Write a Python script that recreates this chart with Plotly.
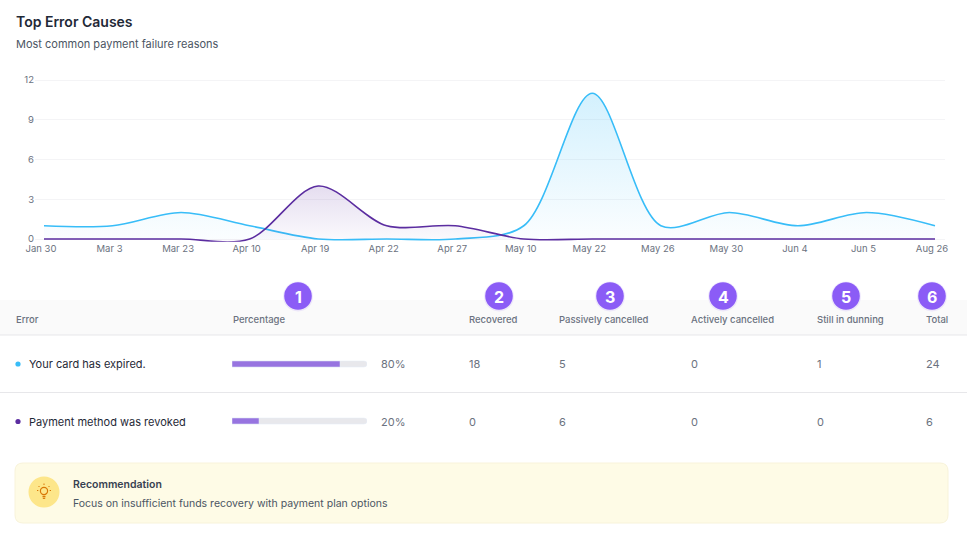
import plotly.graph_objects as go

# Tamaño de la página
W, H = 967, 543

# Datos del gráfico (conteo de errores por fecha)
dates = ["Jan 30", "Mar 3", "Mar 23", "Apr 10", "Apr 19", "Apr 22", "Apr 27",
         "May 10", "May 22", "May 26", "May 30", "Jun 4", "Jun 5", "Aug 26"]
card_expired = [1, 1, 2, 1, 0, 0, 0, 1, 11, 1, 2, 1, 2, 1]
method_revoked = [0, 0, 0, 0, 4, 1, 1, 0, 0, 0, 0, 0, 0, 0]
y_ticks = [0, 3, 6, 9, 12]

# Datos de la tabla
columns = ["Error", "Percentage", "Recovered", "Passively cancelled",
           "Actively cancelled", "Still in dunning", "Total"]
errors = ["Your card has expired.", "Payment method was revoked"]
percentage = [80, 20]
recovered = [18, 0]
passively_cancelled = [5, 6]
actively_cancelled = [0, 0]
still_in_dunning = [1, 0]
total = [24, 6]
badges = ["1", "2", "3", "4", "5", "6"]

COLORS = {
    "azul": "#38bdf8",
    "morado": "#5b2da0",
    "violeta": "#8b5cf6",
    "barra": "#9774e0",
    "pista": "#e8e8ec",
    "texto": "#1f2937",
    "gris": "#6b7280",
    "borde": "#e7e7ea",
}
FONT = "Inter"


def fx(x):
    return x / W


def fy(y):
    return 1 - y / H


def rrect(x0, y0, x1, y1, r):
    # rectángulo redondeado en pixeles -> coordenadas paper
    X0, X1, Y0, Y1 = fx(x0), fx(x1), fy(y0), fy(y1)
    rx, ry = r / W, r / H
    return (f"M{X0 + rx},{Y0} L{X1 - rx},{Y0} Q{X1},{Y0} {X1},{Y0 - ry} "
            f"L{X1},{Y1 + ry} Q{X1},{Y1} {X1 - rx},{Y1} L{X0 + rx},{Y1} "
            f"Q{X0},{Y1} {X0},{Y1 + ry} L{X0},{Y0 - ry} Q{X0},{Y0} {X0 + rx},{Y0} Z")


def label(x, y, text, size, color, anchor="left", weight=None):
    f = dict(size=size, color=color)
    if weight:
        f["weight"] = weight
    return dict(x=fx(x), y=fy(y), xref="paper", yref="paper", text=text,
                showarrow=False, xanchor=anchor, yanchor="middle", font=f,
                borderpad=0)


def circle(cx, cy, r, color, line=None):
    return dict(type="circle", xref="paper", yref="paper",
                x0=fx(cx - r), x1=fx(cx + r), y0=fy(cy + r), y1=fy(cy - r),
                fillcolor=color, line=line or dict(width=0))


def seg(x0, y0, x1, y1, color, width=1):
    return dict(type="line", xref="paper", yref="paper",
                x0=fx(x0), x1=fx(x1), y0=fy(y0), y1=fy(y1),
                line=dict(color=color, width=width))


fig = go.Figure()

# Series del gráfico de líneas
fig.add_trace(go.Scatter(
    x=dates, y=card_expired, mode="lines", name=errors[0],
    line=dict(color=COLORS["azul"], width=1.6, shape="spline", smoothing=0.9),
    fill="tozeroy",
    fillgradient=dict(type="vertical", colorscale=[[0, "rgba(56,189,248,0.02)"],
                                                    [1, "rgba(56,189,248,0.22)"]]),
    xaxis="x", yaxis="y", hoverinfo="skip",
))
fig.add_trace(go.Scatter(
    x=dates, y=method_revoked, mode="lines", name=errors[1],
    line=dict(color=COLORS["morado"], width=1.6, shape="spline", smoothing=0.9),
    fill="tozeroy",
    fillgradient=dict(type="vertical", colorscale=[[0, "rgba(91,45,160,0.02)"],
                                                    [1, "rgba(91,45,160,0.16)"]]),
    xaxis="x", yaxis="y", hoverinfo="skip",
))

# Barras de porcentaje (pista + relleno)
rows = [0, 1]
fig.add_trace(go.Bar(
    x=[100] * len(rows), y=rows, orientation="h", width=0.105,
    marker=dict(color=COLORS["pista"], cornerradius=3),
    xaxis="x2", yaxis="y2", hoverinfo="skip",
))
fig.add_trace(go.Bar(
    x=percentage, y=rows, orientation="h", width=0.105,
    marker=dict(color=COLORS["barra"], cornerradius=3),
    xaxis="x2", yaxis="y2", hoverinfo="skip",
))

shapes = []
annotations = []

# Título y subtítulo
annotations.append(label(15, 21, "Top Error Causes", 14, COLORS["texto"], weight=600))
annotations.append(label(15, 44, "Most common payment failure reasons", 11, "#4b5563"))

# Encabezado de la tabla
shapes.append(dict(type="rect", xref="paper", yref="paper", x0=0, x1=1,
                   y0=fy(335), y1=fy(300), fillcolor="#fafafa", line_width=0, layer="below"))
for yl in [335, 392.5]:
    shapes.append(seg(0, yl, W, yl, COLORS["borde"]))

col_x = [15, 232, 468, 558, 690, 816, 925]
for cx, name in zip(col_x, columns):
    annotations.append(label(cx, 319, name, 9.5, COLORS["gris"], weight=500))

# Insignias numeradas
badge_x = [298, 499, 610, 723, 846, 932]
for bx, b in zip(badge_x, badges):
    shapes.append(circle(bx, 296.5, 15, "rgba(139,92,246,0.12)"))
    shapes.append(circle(bx, 296, 13.8, COLORS["violeta"]))
    annotations.append(label(bx, 296.5, f"<b>{b}</b>", 16, "white", anchor="center"))

# Filas de la tabla
row_y = [364, 421.5]
dot_colors = [COLORS["azul"], COLORS["morado"]]
for i, ry in enumerate(row_y):
    shapes.append(circle(18, ry, 2.6, dot_colors[i]))
    annotations.append(label(28, ry, errors[i], 11, COLORS["texto"]))
    annotations.append(label(380, ry, f"{percentage[i]}%", 11, COLORS["gris"]))
    vals = [recovered[i], passively_cancelled[i], actively_cancelled[i],
            still_in_dunning[i], total[i]]
    for cx, v in zip(col_x[2:], vals):
        annotations.append(label(cx, ry, str(v), 11, COLORS["gris"]))

# Caja de recomendación
shapes.append(dict(type="path", xref="paper", yref="paper", path=rrect(15, 463, 948, 523, 8),
                   fillcolor="#fefbe6", line=dict(color="#f8f3da", width=1)))
shapes.append(circle(44, 492, 15.5, "#fde68a"))
# Icono de bombilla
bulb = "#d97706"
shapes.append(circle(44, 491, 3.6, "rgba(0,0,0,0)", line=dict(color=bulb, width=1.2)))
shapes.append(seg(42.5, 496.5, 45.5, 496.5, bulb, 1.4))
shapes.append(seg(42.8, 498.3, 45.2, 498.3, bulb, 1.2))
for (a, b, c, d) in [(44, 483.5, 44, 485), (38.5, 486, 39.5, 487), (49.5, 486, 48.5, 487),
                     (37, 490.5, 38.3, 490.5), (49.7, 490.5, 51, 490.5)]:
    shapes.append(seg(a, b, c, d, bulb, 1))

annotations.append(label(72, 484, "Recommendation", 10.5, "#374151", weight=600))
annotations.append(label(72, 503, "Focus on insufficient funds recovery with payment plan options",
                         10.5, "#4b5563"))

# Escalas: 0 -> y=239px, 12 -> y=80px
unit_y = (239 - 80) / 12
y_lo, y_hi = -0.2, 12.2
unit_x = (935 - 44) / 13
x_lo = -(44 - 35) / unit_x
x_hi = 13 + (945 - 935) / unit_x

fig.update_layout(
    width=W, height=H,
    margin=dict(l=0, r=0, t=0, b=0, pad=0, autoexpand=False),
    paper_bgcolor="white", plot_bgcolor="white",
    font=dict(family=FONT, color=COLORS["gris"]),
    showlegend=False,
    barmode="overlay",
    xaxis=dict(domain=[fx(35), fx(945)], range=[x_lo, x_hi], type="category",
               showgrid=False, zeroline=False, showline=False, ticks="",
               tickfont=dict(size=9.5, color=COLORS["gris"]), ticklabelshift=-3,
               automargin=False, fixedrange=True),
    yaxis=dict(domain=[fy(239 - y_lo * unit_y), fy(239 - y_hi * unit_y)], range=[y_lo, y_hi],
               tickvals=y_ticks, showgrid=True, gridcolor="#f4f4f6", gridwidth=1,
               zeroline=False, showline=False, ticks="",
               tickfont=dict(size=9.5, color=COLORS["gris"]), automargin=False,
               fixedrange=True),
    xaxis2=dict(domain=[fx(232), fx(367)], range=[0, 100], visible=False,
                anchor="y2", automargin=False, fixedrange=True),
    yaxis2=dict(domain=[fy(449.5), fy(335.5)], range=[1.5, -0.5], visible=False,
                anchor="x2", automargin=False, fixedrange=True),
    shapes=shapes,
    annotations=annotations,
)

# Fijar la figura en la esquina de la ventana, sin desbordes
ajuste = """
document.documentElement.style.overflow='hidden';
document.body.style.margin='0';
document.body.style.overflow='hidden';
var gd = document.getElementById('{plot_id}');
var caja = gd.parentElement;
caja.style.position='fixed';
caja.style.left='0';
caja.style.top='0';
"""

fig.write_html("out.html", config={"displayModeBar": False}, post_script=ajuste)
